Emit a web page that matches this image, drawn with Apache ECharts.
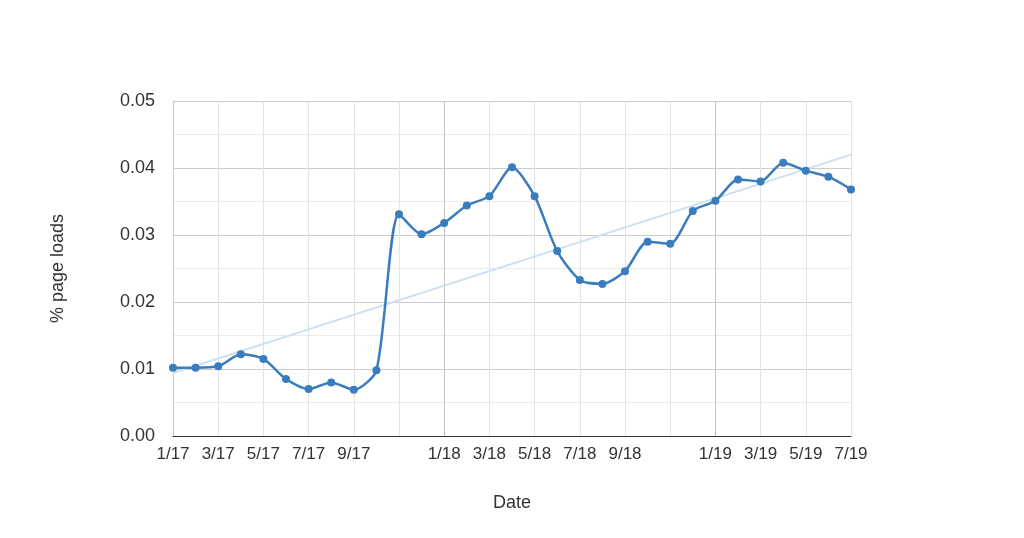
<!DOCTYPE html>
<html>
<head>
<meta charset="UTF-8">
<title>% page loads</title>
<script src="https://cdn.jsdelivr.net/npm/echarts@6/dist/echarts.min.js"></script>
<style>
    html, body {margin: 0; padding: 0; background: #fff;}
    #main {width: 1024px; height: 538px;}
</style>
</head>
<body>
<div id="main"></div>
<script>
    // monthly points, Jan 2017 .. Jul 2019
    var months = ['1/17','2/17','3/17','4/17','5/17','6/17','7/17','8/17','9/17','10/17','11/17','12/17',
                  '1/18','2/18','3/18','4/18','5/18','6/18','7/18','8/18','9/18','10/18','11/18','12/18',
                  '1/19','2/19','3/19','4/19','5/19','6/19','7/19'];
    var pageLoads = [0.0102, 0.0102, 0.0104, 0.0122, 0.0115, 0.0085, 0.0070, 0.0080, 0.0069, 0.0098, 0.0331, 0.0301,
                     0.0318, 0.0344, 0.0358, 0.0401, 0.0358, 0.0276, 0.0233, 0.0227, 0.0246, 0.0290, 0.0287, 0.0336,
                     0.0351, 0.0383, 0.0380, 0.0408, 0.0396, 0.0387, 0.0368];
    // linear trend, first and last month only
    var trendStart = 0.0094;
    var trendEnd = 0.0420;
    var hiddenLabels = ['11/17', '11/18'];

    var trend = months.map(function (m, i) {
        if (i === 0) return trendStart;
        if (i === months.length - 1) return trendEnd;
        return null;
    });

    var textColor = '#333';
    var fontFamily = 'Liberation Sans, Arial, sans-serif';
    var myChart = echarts.init(document.getElementById('main'));

    var option = {
        animation: false,
        grid: {left: 173, right: 173, top: 101, bottom: 102},
        xAxis: {
            type: 'category',
            data: months,
            boundaryGap: false,
            name: 'Date',
            nameLocation: 'middle',
            nameGap: 58,
            nameTextStyle: {color: textColor, fontSize: 18, fontFamily: fontFamily},
            axisLine: {lineStyle: {color: '#333', width: 1}},
            axisTick: {show: false},
            axisLabel: {
                color: textColor,
                fontSize: 17,
                fontFamily: fontFamily,
                margin: 10,
                interval: function (index, value) {
                    return index % 2 === 0 && hiddenLabels.indexOf(value) < 0;
                }
            },
            splitLine: {
                show: true,
                interval: 1,
                // every 6th line falls on a January -> darker
                lineStyle: {color: ['#c2c2c2', '#e3e3e3', '#e3e3e3', '#e3e3e3', '#e3e3e3', '#e3e3e3'], width: 1}
            }
        },
        yAxis: {
            type: 'value',
            min: 0,
            max: 0.05,
            interval: 0.01,
            name: '% page loads',
            nameLocation: 'middle',
            nameGap: 106,
            nameRotate: 90,
            nameTextStyle: {color: textColor, fontSize: 18, fontFamily: fontFamily},
            axisLine: {show: true, lineStyle: {color: '#c8c8c8'}},
            axisTick: {show: false},
            axisLabel: {
                color: textColor,
                fontSize: 18,
                fontFamily: fontFamily,
                margin: 18,
                formatter: function (v) { return v.toFixed(2); }
            },
            splitLine: {show: true, lineStyle: {color: '#cccccc', width: 1}},
            minorTick: {show: false, splitNumber: 2},
            minorSplitLine: {show: true, lineStyle: {color: '#ebebeb', width: 1}}
        },
        series: [
            {
                name: 'trend',
                type: 'line',
                data: trend,
                connectNulls: true,
                symbol: 'none',
                silent: true,
                lineStyle: {color: '#cfe0f1', width: 2}
            },
            {
                name: '% page loads',
                type: 'line',
                data: pageLoads,
                smooth: 0.25,
                symbol: 'circle',
                symbolSize: 8,
                itemStyle: {color: '#3a7dbf'},
                lineStyle: {color: '#3a7dbf', width: 2.5}
            }
        ]
    };

    myChart.setOption(option);
</script>
</body>
</html>
